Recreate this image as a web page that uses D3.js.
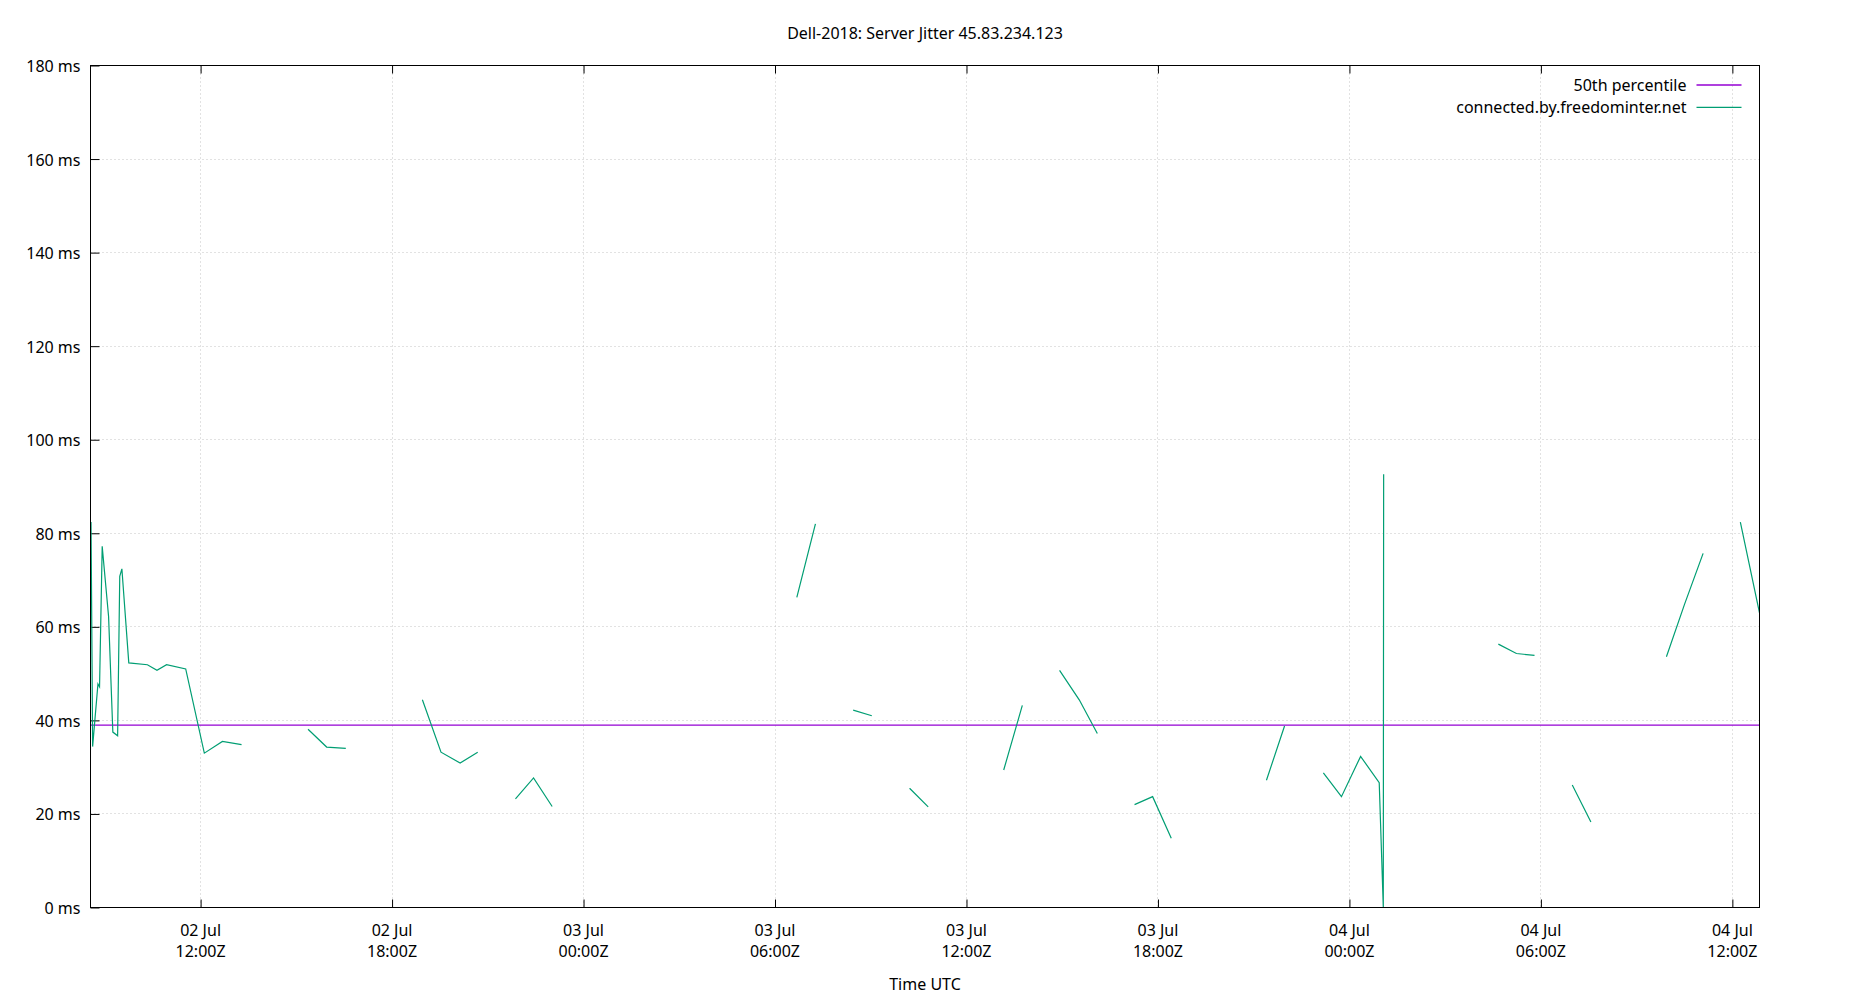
<!DOCTYPE html>
<html>
<head>
<meta charset="utf-8">
<script src="https://cdn.jsdelivr.net/npm/d3@7"></script>
<style>
  body { margin: 0; background: #fff; }
  svg { display: block; font-family: "Noto Sans", sans-serif; font-size: 16px; }
  .grid line { stroke: #c4c4c4; stroke-width: 1; stroke-dasharray: 1,3; }
</style>
</head>
<body>
<svg width="1850" height="1000"></svg>
<script>

// jitter samples (ms); null = no data, line is broken there
var times = [
  "2018-07-02T08:34:00Z", "2018-07-02T08:37:00Z", "2018-07-02T08:47:00Z", "2018-07-02T08:50:00Z",
  "2018-07-02T08:55:00Z", "2018-07-02T09:07:00Z", "2018-07-02T09:15:00Z", "2018-07-02T09:24:00Z",
  "2018-07-02T09:28:00Z", "2018-07-02T09:32:00Z", "2018-07-02T09:45:00Z", "2018-07-02T10:20:00Z",
  "2018-07-02T10:38:00Z", "2018-07-02T10:56:00Z", "2018-07-02T11:32:00Z", "2018-07-02T12:07:00Z",
  "2018-07-02T12:41:00Z", "2018-07-02T13:17:00Z", "2018-07-02T14:20:00Z",
  "2018-07-02T15:22:00Z", "2018-07-02T15:57:00Z", "2018-07-02T16:33:00Z", "2018-07-02T17:45:00Z",
  "2018-07-02T18:57:00Z", "2018-07-02T19:32:00Z", "2018-07-02T20:08:00Z", "2018-07-02T20:41:00Z", "2018-07-02T21:15:00Z",
  "2018-07-02T21:52:00Z", "2018-07-02T22:26:00Z", "2018-07-02T23:01:00Z", "2018-07-03T03:00:00Z",
  "2018-07-03T06:41:00Z", "2018-07-03T07:16:00Z", "2018-07-03T07:50:00Z",
  "2018-07-03T08:27:00Z", "2018-07-03T09:02:00Z", "2018-07-03T09:40:00Z",
  "2018-07-03T10:13:00Z", "2018-07-03T10:48:00Z", "2018-07-03T12:00:00Z",
  "2018-07-03T13:10:00Z", "2018-07-03T13:45:00Z", "2018-07-03T14:20:00Z",
  "2018-07-03T14:55:00Z", "2018-07-03T15:32:00Z", "2018-07-03T16:06:00Z", "2018-07-03T16:40:00Z",
  "2018-07-03T17:16:00Z", "2018-07-03T17:50:00Z", "2018-07-03T18:25:00Z", "2018-07-03T20:00:00Z",
  "2018-07-03T21:24:00Z", "2018-07-03T21:58:00Z", "2018-07-03T22:35:00Z",
  "2018-07-03T23:11:00Z", "2018-07-03T23:45:00Z", "2018-07-04T00:21:00Z", "2018-07-04T00:56:00Z",
  "2018-07-04T01:03:40Z", "2018-07-04T01:04:20Z", "2018-07-04T03:00:00Z",
  "2018-07-04T04:40:00Z", "2018-07-04T05:14:00Z", "2018-07-04T05:48:00Z", "2018-07-04T06:20:00Z",
  "2018-07-04T06:59:00Z", "2018-07-04T07:34:00Z", "2018-07-04T08:40:00Z",
  "2018-07-04T09:56:00Z", "2018-07-04T10:30:00Z", "2018-07-04T11:05:00Z", "2018-07-04T11:40:00Z",
  "2018-07-04T12:15:00Z", "2018-07-04T12:51:00Z"
];

var jitter = [
  82.4, 34.4, 47.8, 47.2,
  77.2, 62.2, 37.5, 36.7,
  70.8, 72.4, 52.3, 51.9,
  50.7, 51.9, 51.0, 33.0,
  35.5, 34.8, null,
  38.1, 34.3, 34.0, null,
  44.4, 33.2, 30.9, 33.2, null,
  23.2, 27.7, 21.6, null,
  66.3, 82.0, null,
  42.2, 41.0, null,
  25.5, 21.5, null,
  29.4, 43.2, null,
  50.7, 44.4, 37.2, null,
  22.0, 23.7, 14.8, null,
  27.2, 38.8, null,
  28.8, 23.7, 32.3, 26.7,
  0.0, 92.6, null,
  56.3, 54.3, 53.9, null,
  26.2, 18.3, null,
  53.6, 64.8, 75.7, null,
  82.4, 63.0
];

var median = 39.0;
var yTicks = [0, 20, 40, 60, 80, 100, 120, 140, 160, 180];

var seriesNames = ["50th percentile", "connected.by.freedominter.net"];
var seriesColors = ["#9400d3", "#009e73"];

var margin = {left: 90.5, top: 65.5},
    width = 1669,
    height = 842;

var data = times.map(function(t, i){
  return {time: d3.isoParse(t), value: jitter[i]};
});

// axis starts a touch before the first sample
var xStart = d3.isoParse("2018-07-02T08:33:00Z");

var x = d3.scaleUtc()
    .domain([xStart, d3.max(data, function(d){ return d.time; })])
    .range([0, width]);

var y = d3.scaleLinear()
    .domain([0, 180])
    .range([height, 0]);

var svg = d3.select("svg");

var g = svg.append("g")
    .attr("transform", "translate(" + margin.left + "," + margin.top + ")");

var xTicks = x.ticks(d3.utcHour.every(6));

// grid
var grid = g.append("g").attr("class", "grid");
grid.selectAll(".gy")
  .data(yTicks.slice(1))
  .enter().append("line")
    .attr("x1", 0)
    .attr("x2", width)
    .attr("y1", function(d){ return Math.round(y(d)); })
    .attr("y2", function(d){ return Math.round(y(d)); });
grid.selectAll(".gx")
  .data(xTicks)
  .enter().append("line")
    .attr("x1", function(d){ return Math.round(x(d)); })
    .attr("x2", function(d){ return Math.round(x(d)); })
    .attr("y1", 0)
    .attr("y2", height);

// y axis (left only)
var yAxis = g.append("g")
  .call(d3.axisLeft(y)
    .tickValues(yTicks)
    .tickSizeInner(-9)
    .tickSizeOuter(0)
    .tickPadding(10)
    .tickFormat(function(d){ return d + " ms"; }));

// x axis bottom, labels drawn separately on two lines
g.append("g")
  .attr("transform", "translate(0," + height + ")")
  .call(d3.axisBottom(x)
    .tickValues(xTicks)
    .tickSizeInner(-8)
    .tickSizeOuter(0)
    .tickFormat(""));

// mirrored ticks on top
g.append("g")
  .call(d3.axisTop(x)
    .tickValues(xTicks)
    .tickSizeInner(-8)
    .tickSizeOuter(0)
    .tickFormat(""));

g.selectAll(".domain").remove();
g.selectAll(".tick line").attr("stroke", "#000");
yAxis.selectAll(".tick text")
  .attr("fill", "#000")
  .attr("font-size", 16)
  .attr("font-family", "Noto Sans")
  .attr("dy", null)
  .attr("y", 6);

var dayFmt = d3.utcFormat("%d %b"),
    hourFmt = d3.utcFormat("%H:%MZ");

var xLab = g.append("g")
  .selectAll("text")
  .data(xTicks)
  .enter().append("text")
    .attr("text-anchor", "middle")
    .attr("x", function(d){ return x(d); });
xLab.append("tspan")
    .attr("x", function(d){ return x(d); })
    .attr("y", height + 28.5)
    .text(function(d){ return dayFmt(d); });
xLab.append("tspan")
    .attr("x", function(d){ return x(d); })
    .attr("y", height + 49.5)
    .text(function(d){ return hourFmt(d); });

// median line
g.append("line")
    .attr("x1", 0)
    .attr("x2", width)
    .attr("y1", y(median))
    .attr("y2", y(median))
    .attr("stroke", seriesColors[0])
    .attr("stroke-width", 1.3);

// jitter series
var line = d3.line()
    .defined(function(d){ return d.value !== null; })
    .x(function(d){ return x(d.time); })
    .y(function(d){ return y(d.value); });

g.append("path")
    .datum(data)
    .attr("d", line)
    .attr("fill", "none")
    .attr("stroke", seriesColors[1])
    .attr("stroke-width", 1.2);

// border
g.append("rect")
    .attr("width", width)
    .attr("height", height)
    .attr("fill", "none")
    .attr("stroke", "#000")
    .attr("stroke-width", 1);

// legend
var legend = g.selectAll(".legend")
  .data(seriesNames)
  .enter().append("g")
    .attr("transform", function(d, i){
      return "translate(0," + (19.5 + i * 22.3) + ")";
    });
legend.append("text")
    .attr("x", 1596)
    .attr("y", 6)
    .attr("text-anchor", "end")
    .text(function(d){ return d; });
legend.append("line")
    .attr("x1", 1606)
    .attr("x2", 1651)
    .attr("stroke", function(d, i){ return seriesColors[i]; })
    .attr("stroke-width", 1.3);

// title and axis label
svg.append("text")
    .attr("x", 925)
    .attr("y", 39)
    .attr("text-anchor", "middle")
    .text("Dell-2018: Server Jitter 45.83.234.123");

svg.append("text")
    .attr("x", 925)
    .attr("y", 990)
    .attr("text-anchor", "middle")
    .text("Time UTC");

</script>
</body>
</html>
